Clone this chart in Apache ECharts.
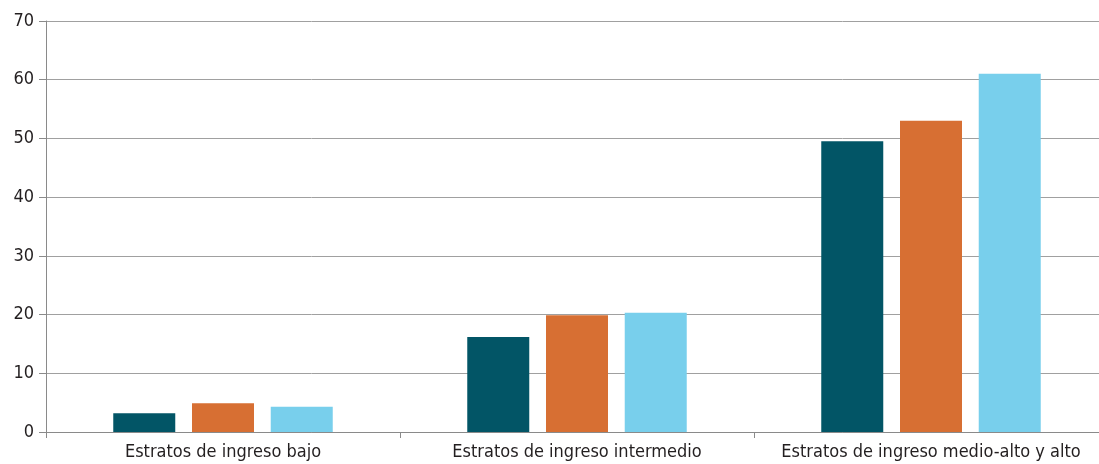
<!DOCTYPE html>
<html>
<head>
<meta charset="utf-8">
<script src="https://cdn.jsdelivr.net/npm/echarts@6/dist/echarts.min.js"></script>
<style>
  html, body { margin: 0; padding: 0; background: #fff; overflow: hidden; }
  #chart { width: 1108px; height: 464px; }
</style>
</head>
<body>
<div id="chart"></div>
<script>
const categories = ["Estratos de ingreso bajo", "Estratos de ingreso intermedio", "Estratos de ingreso medio-alto y alto"];
const serieA = [3.2, 16.2, 49.5];
const serieB = [4.9, 19.9, 53.0];
const serieC = [4.3, 20.3, 61.0];
const yTicks = { min: 0, max: 70, interval: 10 };

const font = '"Liberation Sans Narrow", "DejaVu Sans Condensed", "Roboto", sans-serif';
const chart = echarts.init(document.getElementById("chart"), null, { renderer: "canvas" });

const bar = (data, color) => ({
  type: "bar",
  data: data,
  barWidth: 62,
  barGap: "27%",
  itemStyle: { color: color },
  emphasis: { disabled: true }
});

// the plot runs a little past the right edge of the picture, like the original
let option = {
  animation: false,
  grid: {
    left: 46,
    right: 0,
    top: 21,
    bottom: 32,
    containLabel: false
  },
  xAxis: {
    type: "category",
    data: categories,
    axisLine: { lineStyle: { color: "#8a8a8a", width: 1 } },
    axisTick: { show: true, interval: 0, length: 6, lineStyle: { color: "#8a8a8a" } },
    axisLabel: { interval: 0, color: "#231f20", fontSize: 18, fontFamily: font, margin: 11 }
  },
  yAxis: {
    type: "value",
    min: yTicks.min,
    max: yTicks.max,
    interval: yTicks.interval,
    axisLine: { show: true, lineStyle: { color: "#8a8a8a", width: 1 } },
    axisTick: { show: true, length: 7, lineStyle: { color: "#8a8a8a" } },
    axisLabel: { color: "#231f20", fontSize: 18, fontFamily: font, margin: 12 },
    splitLine: { lineStyle: { color: "#a0a0a0", width: 1 } }
  },
  series: [
    bar(serieA, "#025566"),
    bar(serieB, "#d76f33"),
    bar(serieC, "#78cfec")
  ]
};
chart.setOption(option);
</script>
</body>
</html>
